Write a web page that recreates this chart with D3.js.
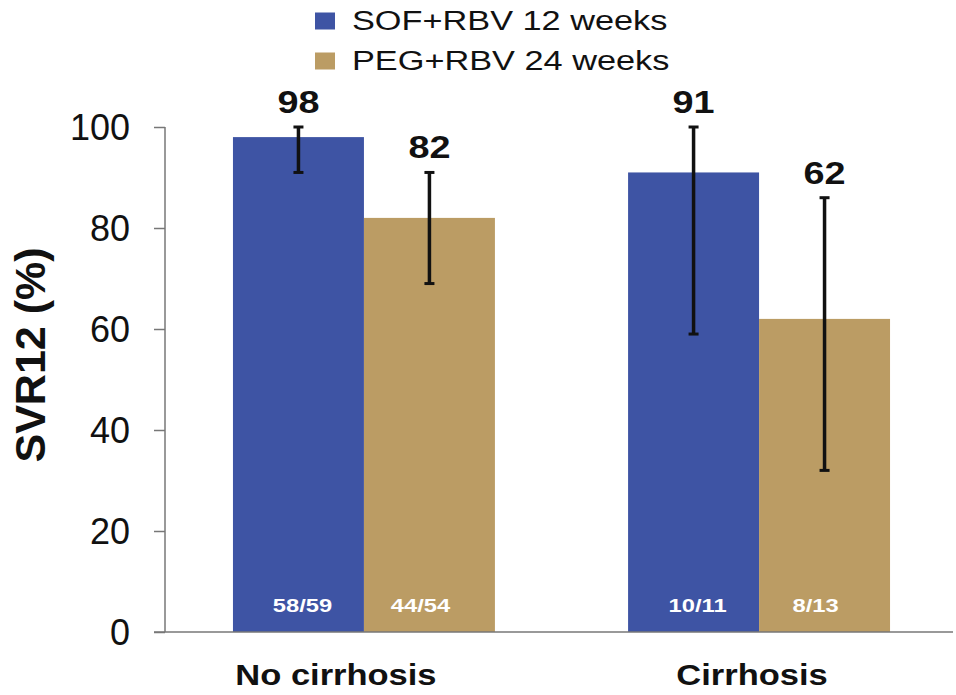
<!DOCTYPE html>
<html><head><meta charset="utf-8">
<script src="https://cdn.jsdelivr.net/npm/d3@7"></script>
<style>body{margin:0;background:#fff}svg{display:block;font-family:"Liberation Sans",Arial,sans-serif}</style>
</head><body><svg id="c" width="956" height="695"></svg>
<script>
const categories = ["No cirrhosis", "Cirrhosis"];
const seriesNames = ["SOF+RBV 12 weeks", "PEG+RBV 24 weeks"];
const seriesColors = ["#3e54a4", "#bb9c64"];
const sofValues = [98, 91];
const pegValues = [82, 62];
const sofLow = [91, 59];
const sofHigh = [100, 100];
const pegLow = [69, 32];
const pegHigh = [91, 86];
const sofFractions = ["58/59", "10/11"];
const pegFractions = ["44/54", "8/13"];
const yTicks = [0, 20, 40, 60, 80, 100];

const rows = [];
categories.forEach((c, i) => {
  rows.push({cat: c, s: 0, v: sofValues[i], lo: sofLow[i], hi: sofHigh[i], frac: sofFractions[i]});
  rows.push({cat: c, s: 1, v: pegValues[i], lo: pegLow[i], hi: pegHigh[i], frac: pegFractions[i]});
});

const svg = d3.select("#c");
const y = d3.scaleLinear().domain([0, 100]).range([632, 127]);
const x0 = d3.scaleBand().domain(categories).range([165, 958]).paddingInner(0.337).paddingOuter(0.172);
const x1 = d3.scaleBand().domain([0, 1]).range([0, x0.bandwidth()]).padding(0);

function stretched(sel, sx) {
  return sel.attr("transform", function(d) {
    return `translate(${this.__px},${this.__py}) scale(${sx},1)`;
  });
}
function addText(parent, x, y, sx) {
  const t = parent.append("text");
  t.attr("transform", `translate(${x},${y}) scale(${sx},1)`);
  return t;
}

// bars
svg.selectAll("rect.bar").data(rows).enter().append("rect")
  .attr("x", d => x0(d.cat) + x1(d.s))
  .attr("y", d => y(d.v))
  .attr("width", x1.bandwidth())
  .attr("height", d => y(0) - y(d.v))
  .attr("fill", d => seriesColors[d.s]);

// axis
const axis = d3.axisLeft(y).tickValues(yTicks).tickSize(11).tickPadding(24);
const g = svg.append("g").attr("transform", "translate(165,0)").call(axis);
g.select(".domain").attr("stroke", "#777").attr("stroke-width", 1.5).attr("d", "M0,127V632");
g.selectAll(".tick line").attr("stroke", "#777").attr("stroke-width", 1.5);
g.selectAll(".tick text").attr("font-size", 36).attr("fill", "#111")
  .attr("font-family", "'Liberation Sans',Arial,sans-serif").attr("dy", "0.35em");
svg.append("line").attr("x1", 154).attr("x2", 953).attr("y1", y(0)).attr("y2", y(0))
  .attr("stroke", "#777").attr("stroke-width", 1.5);

// error bars
const cx = d => x0(d.cat) + x1(d.s) + x1.bandwidth() / 2;
const eb = svg.selectAll("g.eb").data(rows).enter().append("g");
eb.append("line").attr("x1", cx).attr("x2", cx).attr("y1", d => y(d.lo)).attr("y2", d => y(d.hi))
  .attr("stroke", "#111").attr("stroke-width", 3.5);
eb.append("line").attr("x1", d => cx(d) - 5).attr("x2", d => cx(d) + 5).attr("y1", d => y(d.hi)).attr("y2", d => y(d.hi))
  .attr("stroke", "#111").attr("stroke-width", 3);
eb.append("line").attr("x1", d => cx(d) - 5).attr("x2", d => cx(d) + 5).attr("y1", d => y(d.lo)).attr("y2", d => y(d.lo))
  .attr("stroke", "#111").attr("stroke-width", 3);

// value labels
rows.forEach(d => {
  addText(svg, cx(d), y(d.hi) - 14, 1.22)
    .attr("text-anchor", "middle").attr("font-size", 31).attr("font-weight", "bold").attr("fill", "#111")
    .text(d.v);
});

// fractions
rows.forEach(d => {
  addText(svg, cx(d) + (d.s === 0 ? 4 : -9), 612, 1.25)
    .attr("text-anchor", "middle").attr("font-size", 19).attr("font-weight", "bold").attr("fill", "#fff")
    .text(d.frac);
});

// category labels
categories.forEach(c => {
  addText(svg, x0(c) + x0.bandwidth() / 2 + (c === "No cirrhosis" ? -28 : -7), 685, 1.15)
    .attr("text-anchor", "middle").attr("font-size", 30).attr("font-weight", "bold").attr("fill", "#111")
    .text(c);
});

// y label
svg.append("text").attr("transform", "translate(45,355) rotate(-90)")
  .attr("text-anchor", "middle").attr("font-size", 43).attr("font-weight", "bold").attr("fill", "#111")
  .text("SVR12 (%)");

// legend
seriesNames.forEach((n, i) => {
  const cy = 21 + i * 40;
  svg.append("rect").attr("x", 315).attr("y", cy - 8.5).attr("width", 20).attr("height", 17).attr("fill", seriesColors[i]);
  addText(svg, 352, cy + 8.5, 1.27).attr("font-size", 27).attr("fill", "#111").text(n);
});
</script></body></html>
